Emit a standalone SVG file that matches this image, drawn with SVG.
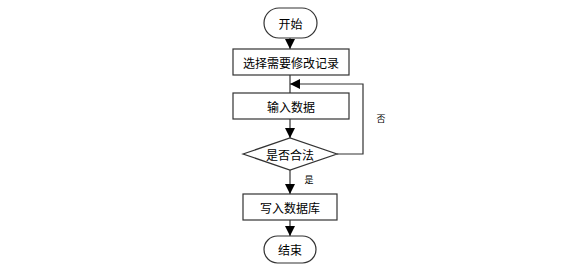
<svg xmlns="http://www.w3.org/2000/svg" width="571" height="267" viewBox="0 0 571 267">
<style>
.n{fill:#fff;stroke:#333;stroke-width:1.2}
.t{font-family:"Noto Sans CJK SC","Liberation Sans",sans-serif;font-size:12px;fill:#000;text-anchor:middle;dominant-baseline:central}
.s{font-size:9px}
.c{fill:none;stroke:#333;stroke-width:1.2}
</style>
<defs>
<marker id="a" viewBox="0 0 10 10" refX="10" refY="5" markerWidth="10" markerHeight="10" markerUnits="userSpaceOnUse" orient="auto"><path d="M0,0L10,5L0,10z" fill="#000"/></marker>
</defs>
<rect width="571" height="267" fill="#fff"/>
<g id="connectors">
<path class="c" d="M290,38V49" marker-end="url(#a)"/>
<path class="c" d="M290,75V93"/>
<path class="c" d="M290,119V138" marker-end="url(#a)"/>
<path class="c" d="M290,170V194" marker-end="url(#a)"/>
<path class="c" d="M290,220V236" marker-end="url(#a)"/>
<path class="c" d="M337,154H363V84H290" marker-end="url(#a)"/>
<text class="t s" x="381" y="118">否</text>
<text class="t s" x="309" y="179">是</text>
</g>
<g id="start"><rect class="n" x="264" y="8" width="53" height="30" rx="15"/><text class="t" x="290.5" y="23">开始</text></g>
<g id="select"><rect class="n" x="233" y="49" width="116" height="26"/><text class="t" x="291" y="62">选择需要修改记录</text></g>
<g id="input"><rect class="n" x="233" y="93" width="116" height="26"/><text class="t" x="291" y="106">输入数据</text></g>
<g id="check"><path class="n" d="M243,154L290,138L337,154L290,170z"/><text class="t" x="290" y="154">是否合法</text></g>
<g id="write"><rect class="n" x="243" y="194" width="94" height="26"/><text class="t" x="290" y="207">写入数据库</text></g>
<g id="end"><rect class="n" x="264" y="236" width="52" height="27" rx="13.5"/><text class="t" x="290" y="249.5">结束</text></g>
</svg>
